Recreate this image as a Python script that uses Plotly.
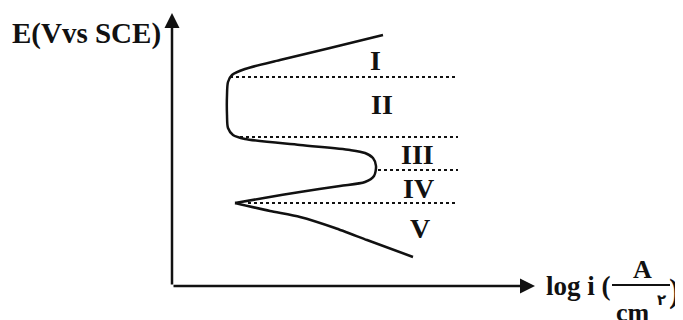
import plotly.graph_objects as go

# Curva de polarização (unidades arbitrárias: log i -> x, E -> y)
ramo_anodico_logi = [21.1, 15.8, 10.8, 7.3, 6.0, 5.6, 5.5, 5.5, 5.6, 6.1, 7.3, 12.8, 17.8,
                     19.3, 20.1, 20.4, 20.2, 19.3, 16.8, 12.8, 9.2, 6.3]
ramo_anodico_E = [25.1, 23.8, 22.6, 21.7, 21.1, 20.4, 19.1, 17.1, 15.8, 15.1, 14.7, 14.1, 13.6,
                  13.3, 12.8, 12.0, 11.0, 10.4, 10.0, 9.4, 8.8, 8.3]
ramo_catodico_logi = [6.3, 9.8, 12.8, 16.3, 19.5, 24.1]
ramo_catodico_E = [8.3, 7.5, 6.9, 5.8, 4.6, 2.9]

# Limites entre regiões (linhas pontilhadas)
limite_E = [20.9, 14.9, 11.6, 8.3]
limite_inicio = [5.8, 6.8, 20.6, 7.6]
limite_fim = [28.5, 28.6, 28.6, 28.6]

# Rótulos das regiões
regioes = ["I", "II", "III", "IV", "V"]
regiao_logi = [20.3, 21.0, 24.5, 24.6, 24.8]
regiao_E = [22.6, 18.2, 13.2, 9.8, 5.8]

FONTE = "Liberation Serif"
PRETO = "#111111"

# a página tem margem de 8px no body: figura menor para caber na janela
LARGURA, ALTURA = 675, 312

fig = go.Figure()

fig.add_trace(go.Scatter(
    x=ramo_anodico_logi, y=ramo_anodico_E, mode="lines",
    line=dict(color=PRETO, width=2.5, shape="spline", smoothing=0.8),
    cliponaxis=False, showlegend=False, hoverinfo="skip"
))
fig.add_trace(go.Scatter(
    x=ramo_catodico_logi, y=ramo_catodico_E, mode="lines",
    line=dict(color=PRETO, width=2.5, shape="spline", smoothing=0.6),
    cliponaxis=False, showlegend=False, hoverinfo="skip"
))

for e, x0, x1 in zip(limite_E, limite_inicio, limite_fim):
    fig.add_trace(go.Scatter(
        x=[x0, x1], y=[e, e], mode="lines",
        line=dict(color=PRETO, width=2, dash="dot"),
        showlegend=False, hoverinfo="skip"
    ))

for nome, x, y in zip(regioes, regiao_logi, regiao_E):
    fig.add_annotation(
        x=x, y=y, text=f"<b>{nome}</b>", showarrow=False,
        font=dict(family=FONTE, size=28, color=PRETO),
        xanchor="center", yanchor="middle"
    )

# Eixos com setas
seta = dict(showarrow=True, arrowhead=2, arrowsize=1.2, arrowwidth=2.5,
            arrowcolor=PRETO, standoff=0, startstandoff=0, text="",
            axref="x", ayref="y")
fig.add_annotation(x=0, y=27.3, ax=0, ay=0, **seta)
fig.add_annotation(x=36.3, y=0, ax=0, ay=0, **seta)

# Rótulo do eixo vertical
fig.add_annotation(
    x=-0.9, y=25.25, text="<b>E(Vvs SCE)</b>", showarrow=False,
    font=dict(family=FONTE, size=29, color=PRETO),
    xanchor="right", yanchor="middle"
)

# Rótulo do eixo horizontal: log i (A / cm۲)
fig.add_annotation(
    x=37.2, y=0.05, text="<b>log i (</b>", showarrow=False,
    font=dict(family=FONTE, size=27, color=PRETO),
    xanchor="left", yanchor="middle"
)
fig.add_annotation(
    x=47.0, y=1.7, text="<b>A</b>", showarrow=False,
    font=dict(family=FONTE, size=26, color=PRETO),
    xanchor="center", yanchor="middle"
)
fig.add_shape(type="line", x0=44.0, x1=49.8, y0=0.1, y1=0.1,
              line=dict(color=PRETO, width=2))
fig.add_annotation(
    x=46.1, y=-2.6, text="<b>cm</b>", showarrow=False,
    font=dict(family=FONTE, size=26, color=PRETO),
    xanchor="center", yanchor="middle"
)
fig.add_annotation(
    x=48.9, y=-1.4, text="<b>۲</b>", showarrow=False,
    font=dict(family="DejaVu Sans", size=15, color=PRETO),
    xanchor="center", yanchor="middle"
)
fig.add_annotation(
    x=50.2, y=-0.5, text="<b>)</b>", showarrow=False,
    font=dict(family=FONTE, size=34, color=PRETO),
    xanchor="center", yanchor="middle"
)

fig.update_layout(
    width=LARGURA, height=ALTURA,
    margin=dict(l=0, r=0, t=0, b=0),
    paper_bgcolor="white", plot_bgcolor="white",
    xaxis=dict(range=[-16.4, 51.1], visible=False, fixedrange=True),
    yaxis=dict(range=[-3.4, 27.8], visible=False, fixedrange=True),
    showlegend=False,
)

fig.write_html("out.html")
